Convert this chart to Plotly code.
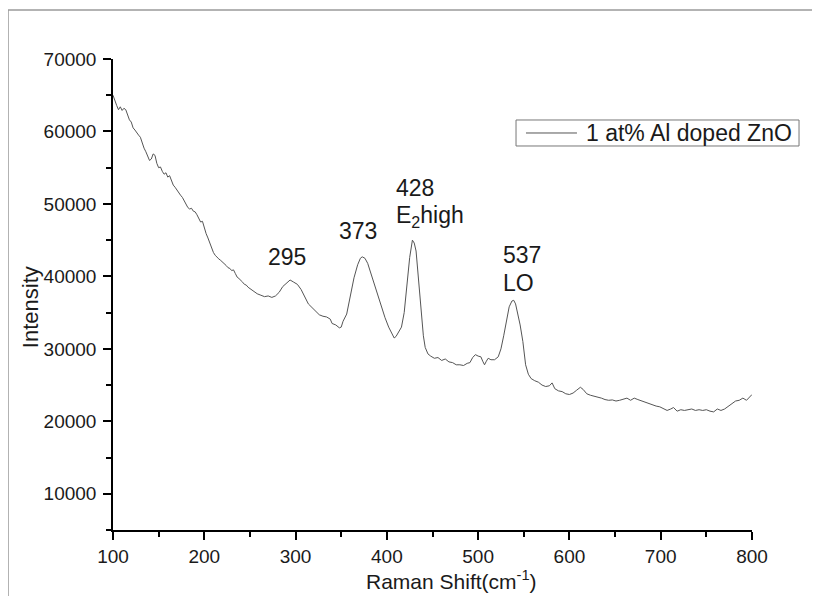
import plotly.graph_objects as go

# Raman spectrum
raman_shift = [100,102,104,106,108,110,112,114,116,118,120,122,124,126,128,130,132,134,136,138,
               140,142,144,146,148,150,152,154,156,158,160,162,164,166,168,170,172,174,176,178,
               180,182,184,186,188,190,192,194,196,198,200,202,204,206,208,210,212,214,216,218,
               220,222,224,226,228,230,232,234,236,238,240,242,244,246,248,250,254,258,262,266,
               270,274,278,282,286,290,294,298,302,306,310,314,318,322,326,330,334,338,340,344,
               348,350,352,356,360,364,368,371,373,376,379,382,386,390,394,398,402,406,408,410,
               413,416,419,422,425,428,430,432,434,436,438,440,442,445,448,452,456,460,464,468,
               472,476,480,484,488,491,494,497,500,503,505,507,509,511,514,518,522,525,528,531,
               534,537,539,541,543,546,549,552,555,558,562,566,570,574,578,581,584,588,592,596,
               600,604,608,612,615,619,623,627,631,635,639,643,647,651,655,659,663,667,671,675,
               679,683,687,691,695,699,703,707,711,714,718,722,726,730,734,738,742,746,750,754,
               758,762,766,770,774,778,782,786,790,794,797,800]
intensity = [65000,64200,63600,63000,63400,62900,63200,63000,62300,61600,61300,60500,60200,59800,59500,59200,58300,57700,57200,56500,
             56000,56200,56900,56700,55600,55000,55100,54500,54100,54300,53700,53900,53200,52600,52300,51900,51600,51200,50900,50400,
             49800,49500,49300,49400,49000,48900,48500,47900,47500,47600,46700,45900,45300,44600,43900,43300,42900,42600,42400,42200,
             42000,41800,41500,41200,41100,40800,40900,40400,39900,39700,39500,39200,38900,38800,38500,38300,37900,37600,37400,37200,
             37300,37100,37300,37800,38600,39100,39500,39200,38900,38200,37300,36200,35700,35200,34700,34500,34400,34100,33500,33300,
             32900,33000,33800,34800,37200,39800,41600,42500,42700,42500,41800,40600,38800,37200,35700,34300,33000,32000,31500,31700,
             32300,33000,35000,38500,42600,45000,44600,43500,40800,37700,34300,31800,30200,29300,29000,28700,28800,28400,28600,28200,
             28100,27800,27800,27700,28000,28100,28800,29200,29000,28900,28300,27800,28300,28700,28500,28500,28900,30000,31800,34000,
             35800,36600,36700,36200,35200,33300,31000,27800,26500,25900,25600,25400,25000,24800,24900,25300,24500,24200,24100,23800,
             23700,23900,24300,24700,24400,23800,23600,23500,23400,23200,23000,22900,22950,22800,22900,23100,23200,22900,23200,23000,
             22800,22700,22500,22300,22100,22000,21800,21500,21700,21900,21400,21600,21500,21600,21700,21500,21600,21500,21600,21400,
             21300,21700,21500,21700,22100,22500,22800,22900,23200,22900,23300,23700]

x_ticks = [100, 200, 300, 400, 500, 600, 700, 800]
y_ticks = [10000, 20000, 30000, 40000, 50000, 60000, 70000]
series_name = "1 at% Al doped ZnO"

# peak labels: (text, x, y) in data units
peak_labels = [("295", 267.6, 42670), ("373", 345.4, 46260), ("428", 407.8, 52200),
               ("E<sub>2</sub>high", 407.8, 48200), ("537", 525.0, 42950), ("LO", 525.0, 39090)]

FONT = "Liberation Sans, Arial, sans-serif"
TXT = "#1a1a1a"
LINE_COL = "#555555"

fig = go.Figure()
fig.add_trace(go.Scatter(x=raman_shift, y=intensity, mode="lines", name=series_name,
                         line=dict(color=LINE_COL, width=1), showlegend=False))

for t, xx, yy in peak_labels:
    fig.add_annotation(x=xx, y=yy, xref="x", yref="y", text=t, showarrow=False,
                       xanchor="left", yanchor="middle", font=dict(family=FONT, size=23, color=TXT))

# axis titles
fig.add_annotation(x=0.5305, y=-0.106, xref="paper", yref="paper",
                   text="Raman Shift(cm<sup>-1</sup>)", showarrow=False,
                   xanchor="center", yanchor="middle", font=dict(family=FONT, size=21, color=TXT))
fig.add_annotation(x=-0.128, y=0.4735, xref="paper", yref="paper", text="Intensity",
                   textangle=-90, showarrow=False, xanchor="center", yanchor="middle",
                   font=dict(family=FONT, size=22, color=TXT))

# legend box (drawn to match the reference's compact legend)
fig.add_shape(type="rect", xref="paper", yref="paper", x0=0.6307, x1=1.0736, y0=0.8153, y1=0.8705,
              line=dict(color="#777777", width=1), fillcolor="white")
fig.add_shape(type="line", xref="paper", yref="paper", x0=0.6463, x1=0.7261, y0=0.8429, y1=0.8429,
              line=dict(color=LINE_COL, width=1))
fig.add_annotation(x=0.7371, y=0.8429, xref="paper", yref="paper", text=series_name, showarrow=False,
                   xanchor="left", yanchor="middle", font=dict(family=FONT, size=23, color=TXT))

# outer frame lines
frame_col = "#9a9a9a"
fig.add_shape(type="line", xref="paper", yref="paper", x0=-0.1643, x1=1.2, y0=1.104, y1=1.104,
              line=dict(color=frame_col, width=1.5))
fig.add_shape(type="line", xref="paper", yref="paper", x0=-0.1643, x1=-0.1643, y0=1.104, y1=-0.2,
              line=dict(color=frame_col, width=1.5))

axis_common = dict(showgrid=False, zeroline=False, showline=True, linecolor="black", linewidth=1.5,
                   ticks="outside", ticklen=8, tickwidth=1.5, tickcolor="black",
                   tickfont=dict(family=FONT, size=19, color=TXT), mirror=False)

fig.update_layout(
    width=812, height=588,
    margin=dict(l=105, r=68, t=51, b=66, autoexpand=False),
    paper_bgcolor="white", plot_bgcolor="white",
    showlegend=False,
    xaxis=dict(range=[100, 800], tickvals=x_ticks, ticktext=[str(v) for v in x_ticks],
               minor=dict(dtick=50, ticklen=5, tickwidth=1.5, tickcolor="black", ticks="outside"),
               **axis_common),
    yaxis=dict(range=[5000, 70000], tickvals=y_ticks, ticktext=[str(v) for v in y_ticks],
               ticklabelstandoff=3,
               minor=dict(dtick=5000, tick0=0, ticklen=5, tickwidth=1.5, tickcolor="black", ticks="outside"),
               **axis_common),
)

fig.write_html("out.html")
